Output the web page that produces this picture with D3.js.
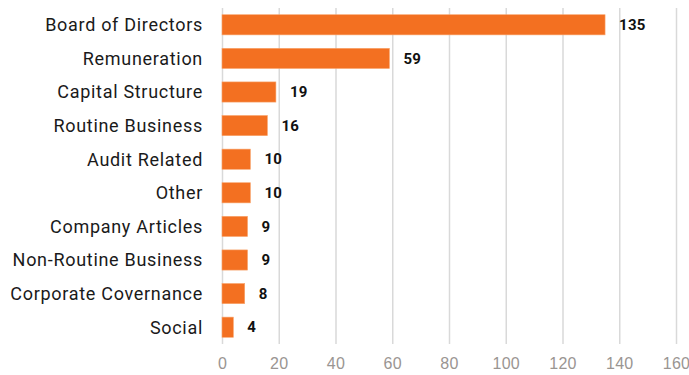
<!DOCTYPE html>
<html>
<head>
<meta charset="utf-8">
<style>
    body { margin: 0; background: #fff; }
    svg { display: block; font-family: Roboto, 'Noto Sans', sans-serif; }
    .x .tick line { stroke: #d9d9d9; stroke-width: 1.5px; }
    .x .tick text { font-size: 16px; fill: #9a9592; letter-spacing: 0.3px; }
    .cat { font-size: 18px; fill: #1a1a1a; letter-spacing: 0.7px; }
    .val { font-size: 15px; font-weight: bold; fill: #111; letter-spacing: 0.3px; }
</style>
</head>
<body>
<svg width="689" height="375"></svg>
<script src="https://d3js.org/d3.v7.min.js"></script>
<script>
    let categories = ["Board of Directors", "Remuneration", "Capital Structure", "Routine Business",
        "Audit Related", "Other", "Company Articles", "Non-Routine Business",
        "Corporate Covernance", "Social"]
    let values = [135, 59, 19, 16, 10, 10, 9, 9, 8, 4]
    let ticks = [0, 20, 40, 60, 80, 100, 120, 140, 160]

    let data = categories.map((c, i) => ({ name: c, value: values[i] }))

    let margin = { top: 8, right: 13, bottom: 31, left: 222 }
    let width = 689, height = 375

    let svg = d3.select("svg")

    let x = d3.scaleLinear()
        .domain([0, 160])
        .range([margin.left, width - margin.right])

    let y = d3.scaleBand()
        .domain(categories)
        .range([margin.top, height - margin.bottom])
        .paddingInner(0.4)
        .paddingOuter(0.2)

    // gridlines + tick labels
    svg.append("g")
        .attr("class", "x axis")
        .attr("transform", `translate(0,${height - margin.bottom})`)
        .call(d3.axisBottom(x).tickValues(ticks).tickSize(-(height - margin.top - margin.bottom)).tickPadding(14))
        .call(g => g.select(".domain").remove())

    svg.append("g")
        .selectAll("rect")
        .data(data)
        .join("rect")
        .attr("x", x(0))
        .attr("y", d => y(d.name))
        .attr("width", d => x(d.value) - x(0))
        .attr("height", y.bandwidth())
        .attr("fill", "#f37021")
        .attr("stroke", "#f8a46c")
        .attr("stroke-width", 0.6)

    svg.append("g")
        .selectAll("text")
        .data(data)
        .join("text")
        .attr("class", "cat")
        .attr("x", margin.left - 19)
        .attr("y", d => y(d.name) + y.bandwidth() / 2)
        .attr("dy", "0.35em")
        .attr("text-anchor", "end")
        .text(d => d.name)

    svg.append("g")
        .selectAll("text")
        .data(data)
        .join("text")
        .attr("class", "val")
        .attr("x", d => x(d.value) + 14)
        .attr("y", d => y(d.name) + y.bandwidth() / 2)
        .attr("dy", "0.35em")
        .text(d => d.value)
</script>
</body>
</html>
